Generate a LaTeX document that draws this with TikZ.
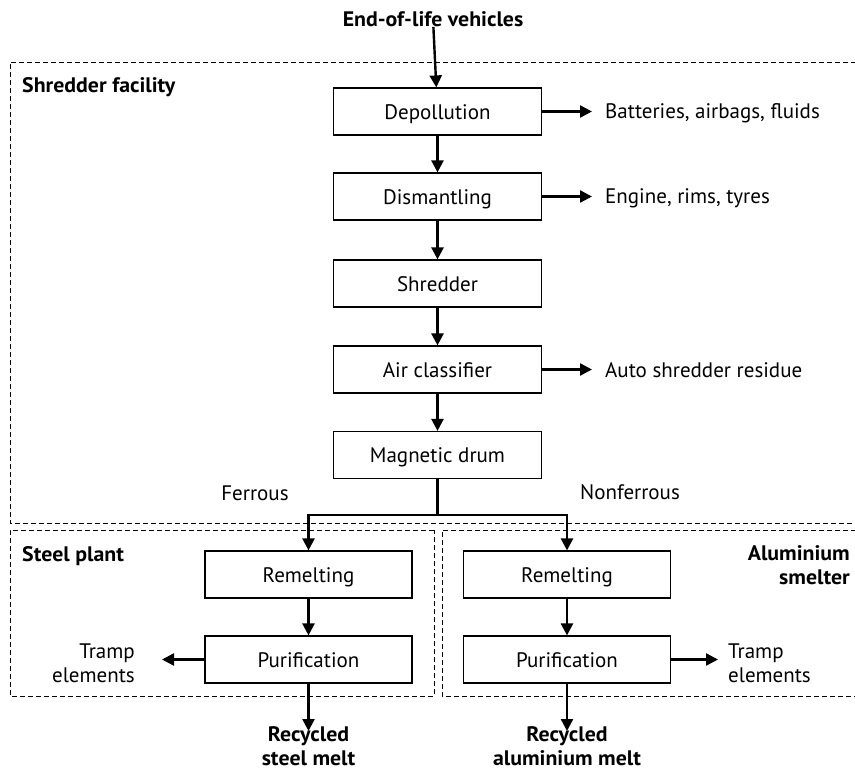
\documentclass[tikz,border=0pt]{standalone}
\usepackage{fontspec}
\setmainfont{PT Sans}[BoldFeatures={FakeStretch=1.04}]
\usetikzlibrary{arrows.meta}
\begin{document}
\begin{tikzpicture}[x=1pt,y=-1pt,
  box/.style={draw, line width=1.2pt, minimum width=208pt, minimum height=47pt, inner sep=0pt, text height=15pt, text depth=0pt, font=\fontsize{21}{24}\selectfont},
  lbl/.style={font=\fontsize{21}{24}\selectfont, align=center, inner sep=0pt},
  bl/.style={font=\bfseries\fontsize{21}{24}\selectfont, align=center, inner sep=0pt},
  flow/.style={line width=2.4pt, -{Triangle[length=12pt,width=12pt]}},
  trunk/.style={line width=2.4pt},
  zone/.style={dash pattern=on 5pt off 3pt, line width=1pt}]
\useasboundingbox (0,0) rectangle (855,771);
% zones
\draw[zone] (856,62) -- (10,62) -- (10,523) -- (856,523);
\draw[zone] (434,530) -- (10,530) -- (10,696) -- (434,696) -- cycle;
\draw[zone] (856,530) -- (442,530) -- (442,696) -- (856,696);
\node[bl, anchor=west] (shf) at (22,87) {Shredder facility};
\node[bl, anchor=west] (stp) at (22,556) {Steel plant};
\node[bl, anchor=north east, align=right] (als) at (850,545) {Aluminium\\smelter};
% main chain
\node[bl] (eol) at (433,19) {End-of-life vehicles};
\node[box] (dep) at (437.5,111.5) {Depollution};
\node[box] (dis) at (437.5,196.5) {Dismantling};
\node[box] (shr) at (437.5,283.5) {Shredder};
\node[box] (air) at (437.5,369.5) {Air classifier};
\node[box] (mag) at (437.5,455) {Magnetic drum};
\draw[flow] (eol) -- (dep);
\draw[flow] (dep) -- (dis);
\draw[flow] (dis) -- (shr);
\draw[flow] (shr) -- (air);
\draw[flow] (air) -- (mag);
% side outputs
\node[lbl, anchor=west] (bat) at (605,113) {Batteries, airbags, fluids};
\node[lbl, anchor=west] (eng) at (605,198) {Engine, rims, tyres};
\node[lbl, anchor=west] (asr) at (605,370) {Auto shredder residue};
\draw[flow] (dep.east) -- ([xshift=-13pt]bat.west |- dep.east);
\draw[flow] (dis.east) -- ([xshift=-13pt]eng.west |- dis.east);
\draw[flow] (air.east) -- ([xshift=-13pt]asr.west |- air.east);
% branch
\node[box, minimum width=207pt] (remL) at (308.5,574.5) {Remelting};
\node[box, minimum width=207pt] (purL) at (308.5,659.5) {Purification};
\node[box, minimum width=207pt] (remR) at (567,574.5) {Remelting};
\node[box, minimum width=207pt] (purR) at (567,659.5) {Purification};
\coordinate (br) at (437.5,515);
\draw[trunk] (mag.south) -- (br);
\draw[flow] (br) -| (remL.north);
\draw[flow] (br) -| (remR.north);
\node[lbl] (fer) at (255,493) {Ferrous};
\node[lbl] (nfe) at (630,492) {Nonferrous};
\draw[flow] (remL) -- (purL);
\draw[flow] (remR) -- (purR);
% tramp elements
\node[lbl, anchor=east, align=right] (trL) at (135,663) {Tramp\\elements};
\node[lbl, anchor=west, align=left] (trR) at (728,663) {Tramp\\elements};
\draw[flow] (purL.west) -- ([xshift=27pt]trL.east |- purL.west);
\draw[flow] (purR.east) -- ([xshift=-10pt]trR.west |- purR.east);
% outputs
\node[bl, anchor=north] (rsm) at (308.5,726) {Recycled\\steel melt};
\node[bl, anchor=north] (ram) at (567,726) {Recycled\\aluminium melt};
\draw[flow] (purL.south) -- ([yshift=-5pt]rsm.north);
\draw[flow] (purR.south) -- ([yshift=-5pt]ram.north);
\end{tikzpicture}
\end{document}
